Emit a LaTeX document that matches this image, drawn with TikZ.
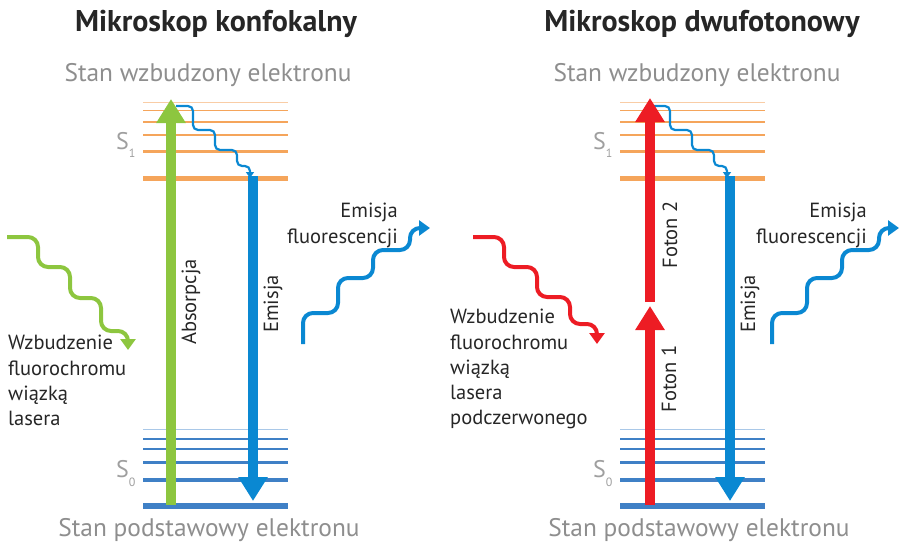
\documentclass[tikz,border=0pt]{standalone}
\usepackage{fontspec}
\setmainfont{PT Sans}
\usepackage{tikz}
\usetikzlibrary{arrows.meta}

\definecolor{zielony}{HTML}{8DC63F}
\definecolor{czerwony}{HTML}{ED1C24}
\definecolor{niebieski}{HTML}{0A88D2}
\definecolor{poziomS0}{HTML}{3F80C6}
\definecolor{poziomS0jasny}{HTML}{A9C8E8}
\definecolor{poziomS1}{HTML}{F5A55B}
\definecolor{poziomS1jasny}{HTML}{F9CDA6}
\definecolor{szary}{HTML}{8E8E8E}

\newcommand{\indeks}[1]{\raisebox{-9pt}{\fontsize{12}{12}\selectfont #1}}

\tikzset{
  tytul/.style={font=\bfseries\fontsize{30}{34}\selectfont, text=black!85},
  stan/.style={font=\fontsize{25.4}{30}\selectfont, text=szary},
  opis/.style={font=\fontsize{20.5}{25.3}\selectfont, text=black!85, inner sep=0pt},
  poziom/.style={font=\fontsize{24}{28}\selectfont, text=szary!85, inner sep=0pt, anchor=base west},
  przejscie/.style={line width=10pt, -{Triangle[width=28pt,length=24pt]}},
  fala/.style={line width=4pt, rounded corners=10pt, -{Triangle[width=15pt,length=11pt]}},
  falka/.style={line width=2.2pt, rounded corners=5pt, -{Triangle[width=8pt,length=6pt]}}
}

\begin{document}
\begin{tikzpicture}[x=1pt, y=-1pt]
  \useasboundingbox (0,0) rectangle (900,551);

  % Tytuly
  \node[tytul] (tytul-L) at (216,24) {Mikroskop konfokalny};
  \node[tytul] (tytul-R) at (702,24) {Mikroskop dwufotonowy};

  % Stany elektronu
  \node[stan] (wzb-L) at (208,75) {Stan wzbudzony elektronu};
  \node[stan] (wzb-R) at (697,75) {Stan wzbudzony elektronu};
  \node[stan] (pod-L) at (209,530) {Stan podstawowy elektronu};
  \node[stan] (pod-R) at (699,530) {Stan podstawowy elektronu};

  % Czesc wspolna obu schematow
  \foreach \dx/\dw in {0/0, 477/469} {
    % Poziomy S1 i S0
    \foreach \y/\w/\c in {102.7/0.8/poziomS1jasny, 110.7/1.5/poziomS1, 121.7/2.2/poziomS1,
                          135/2.6/poziomS1, 151.7/3.2/poziomS1, 178.3/5.5/poziomS1,
                          429.3/0.9/poziomS0jasny, 439/2/poziomS0, 449.3/2.3/poziomS0,
                          462.3/2.7/poziomS0, 480/3.5/poziomS0, 506/5.5/poziomS0}
      \draw[line width=\w, \c] (143+\dx,\y) -- (288+\dx,\y);
    \node[poziom] (S1-\dx) at (116+\dx,149) {S\indeks{1}};
    \node[poziom] (S0-\dx) at (116+\dx,477) {S\indeks{0}};

    % Emisja
    \coordinate (em-gora-\dx) at (253+\dx,176);
    \coordinate (em-dol-\dx) at (253+\dx,501);
    \draw[przejscie, niebieski] (em-gora-\dx) -- (em-dol-\dx);
    \node[opis, rotate=90] (emisja-\dx) at (273+\dx,304) {Emisja};

    % Relaksacja w obrebie S1
    \coordinate (rel-start-\dx) at (176+\dx,106);
    \coordinate (rel-kon-\dx) at (250+\dx,178);
    \draw[falka, niebieski] (rel-start-\dx) -| ++(17,24) -| ++(22,20) -| ++(22,16) -| (rel-kon-\dx);

    % Fluorescencja
    \coordinate (fl-start-\dw) at (303+\dw,344);
    \coordinate (fl-kon-\dw) at (430+\dw,228);
    \draw[fala, niebieski] (fl-start-\dw) |- ++(35,-31) |- ++(35,-35) |- ++(37,-28) |- (fl-kon-\dw);
    \node[opis, align=right, anchor=north east] (fl-opis-\dw) at (398+\dw,203) {Emisja\\fluorescencji};
  }

  % Mikroskop konfokalny: absorpcja jednego fotonu
  \coordinate (abs-dol) at (171,505);
  \coordinate (abs-gora) at (171,99);
  \draw[przejscie, zielony] (abs-dol) -- (abs-gora);
  \node[opis, rotate=90] (absorpcja) at (191,302) {Absorpcja};
  \coordinate (laser-start) at (7,237);
  \coordinate (laser-kon) at (128,350);
  \draw[fala, zielony] (laser-start) -| ++(31,30) -| ++(32,31) -| ++(31,33) -| (laser-kon);
  \node[opis, align=left, anchor=north west] (laser-opis) at (8,335) {Wzbudzenie\\fluorochromu\\wiązką\\lasera};

  % Mikroskop dwufotonowy: dwa fotony
  \coordinate (f1-dol) at (650,505);
  \coordinate (f1-gora) at (650,306);
  \coordinate (f2-dol) at (650,302);
  \coordinate (f2-gora) at (650,98);
  \draw[przejscie, czerwony] (f1-dol) -- (f1-gora);
  \draw[przejscie, czerwony] (f2-dol) -- (f2-gora);
  \node[opis, rotate=90] (foton1) at (669,379) {Foton 1};
  \node[opis, rotate=90] (foton2) at (670,235) {Foton 2};
  \coordinate (ir-start) at (473,237);
  \coordinate (ir-kon) at (597,344);
  \draw[fala, czerwony] (ir-start) -| ++(31,30) -| ++(33,30) -| ++(33,27) -| (ir-kon);
  \node[opis, align=left, anchor=north west] (ir-opis) at (450,309) {Wzbudzenie\\fluorochromu\\wiązką\\lasera\\podczerwonego};
\end{tikzpicture}
\end{document}
